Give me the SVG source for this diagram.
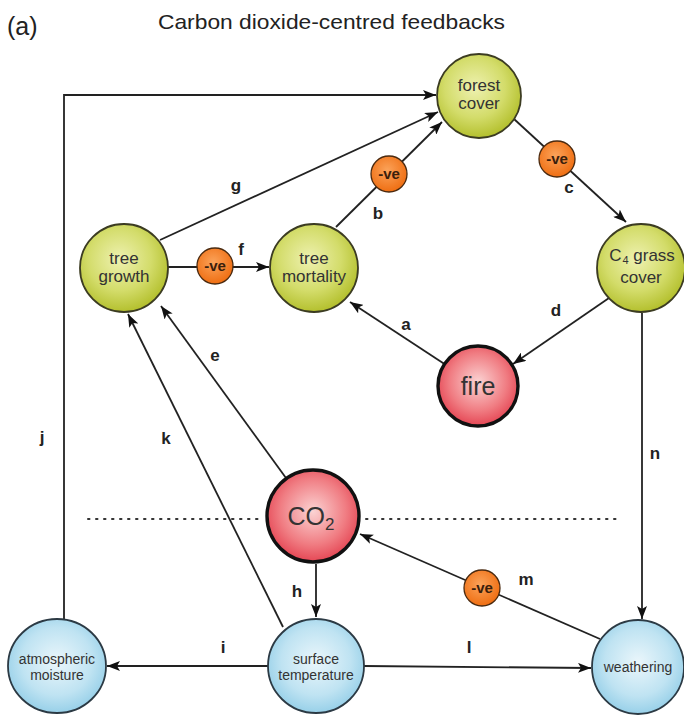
<svg xmlns="http://www.w3.org/2000/svg" width="684" height="719" viewBox="0 0 684 719">
  <defs>
    <radialGradient id="gGreen" cx="45%" cy="40%" r="60%">
      <stop offset="0" stop-color="#eef1b0"/>
      <stop offset="0.6" stop-color="#d3dc6a"/>
      <stop offset="1" stop-color="#b4c02e"/>
    </radialGradient>
    <radialGradient id="gRed" cx="50%" cy="45%" r="60%">
      <stop offset="0" stop-color="#fbd3d3"/>
      <stop offset="0.6" stop-color="#f07c82"/>
      <stop offset="1" stop-color="#e23848"/>
    </radialGradient>
    <radialGradient id="gBlue" cx="50%" cy="45%" r="60%">
      <stop offset="0" stop-color="#eaf6fb"/>
      <stop offset="0.6" stop-color="#bfe3f2"/>
      <stop offset="1" stop-color="#8dcbe6"/>
    </radialGradient>
    <radialGradient id="gOrange" cx="45%" cy="40%" r="60%">
      <stop offset="0" stop-color="#fba35a"/>
      <stop offset="1" stop-color="#ef6e12"/>
    </radialGradient>
    <marker id="arrow" viewBox="0 0 13 10" refX="13" refY="5" markerWidth="13" markerHeight="10" markerUnits="userSpaceOnUse" orient="auto">
      <path d="M0,0 L13,5 L0,10 L3,5 Z" fill="#111"/>
    </marker>
    <style>
      .title { font-family: "Liberation Sans", Arial, sans-serif; font-size: 21px; fill: #222; }
      .panel { font-family: "Liberation Sans", Arial, sans-serif; font-size: 25px; fill: #222; }
      .conn { fill: none; stroke: #222; stroke-width: 1.8; }
      .lbl { font-family: "Liberation Sans", Arial, sans-serif; font-size: 17px; font-weight: bold; fill: #222; text-anchor: middle; }
      .green { fill: url(#gGreen); stroke: #3c3c22; stroke-width: 1.8; }
      .red { fill: url(#gRed); stroke: #111; stroke-width: 3.4; }
      .blue { fill: url(#gBlue); stroke: #2c3a44; stroke-width: 1.8; }
      .neg { fill: url(#gOrange); stroke: #4a2a10; stroke-width: 1.3; }
      .ntxt { font-family: "Liberation Sans", Arial, sans-serif; font-size: 17px; fill: #333; text-anchor: middle; }
      .btxt { font-family: "Liberation Sans", Arial, sans-serif; font-size: 14px; fill: #333; text-anchor: middle; }
      .big { font-family: "Liberation Sans", Arial, sans-serif; font-size: 25px; fill: #333; text-anchor: middle; }
      .vetxt { font-family: "Liberation Sans", Arial, sans-serif; font-size: 15px; font-weight: bold; fill: #3a200c; text-anchor: middle; }
      .dots { fill: none; stroke: #333; stroke-width: 2; stroke-dasharray: 1.5 6.5; stroke-linecap: round; }
    </style>
  </defs>

  <rect width="684" height="719" fill="#ffffff"/>

  <text class="panel" x="7" y="35">(a)</text>
  <text class="title" x="158" y="29" textLength="347" lengthAdjust="spacingAndGlyphs">Carbon dioxide-centred feedbacks</text>

  <!-- dotted divider through the CO2 node -->
  <line class="dots" x1="88" y1="519" x2="262" y2="519"/>
  <line class="dots" x1="366" y1="519" x2="618" y2="519"/>

  <g id="connectors">
    <!-- j -->
    <polyline class="conn" points="64,620 64,95 436,95" marker-end="url(#arrow)"/>
    <!-- g -->
    <line class="conn" x1="160" y1="240" x2="438" y2="112" marker-end="url(#arrow)"/>
    <!-- b -->
    <line class="conn" x1="336" y1="227" x2="442" y2="122" marker-end="url(#arrow)"/>
    <!-- c -->
    <line class="conn" x1="514" y1="119" x2="626" y2="222" marker-end="url(#arrow)"/>
    <!-- f -->
    <line class="conn" x1="168" y1="267" x2="269" y2="267" marker-end="url(#arrow)"/>
    <!-- a -->
    <line class="conn" x1="446" y1="365" x2="350" y2="302" marker-end="url(#arrow)"/>
    <!-- d -->
    <line class="conn" x1="609" y1="298" x2="513" y2="364" marker-end="url(#arrow)"/>
    <!-- e -->
    <line class="conn" x1="286" y1="478" x2="161" y2="306" marker-end="url(#arrow)"/>
    <!-- k -->
    <line class="conn" x1="283" y1="627" x2="128" y2="314" marker-end="url(#arrow)"/>
    <!-- h -->
    <line class="conn" x1="316" y1="564" x2="316" y2="617" marker-end="url(#arrow)"/>
    <!-- i -->
    <line class="conn" x1="268" y1="666" x2="107" y2="666" marker-end="url(#arrow)"/>
    <!-- l -->
    <line class="conn" x1="364" y1="666" x2="591" y2="668" marker-end="url(#arrow)"/>
    <!-- m -->
    <line class="conn" x1="600" y1="639" x2="360" y2="534" marker-end="url(#arrow)"/>
    <!-- n -->
    <line class="conn" x1="642" y1="313" x2="642" y2="619" marker-end="url(#arrow)"/>

    <!-- connector labels -->
    <text class="lbl" x="42" y="443">j</text>
    <text class="lbl" x="236" y="191">g</text>
    <text class="lbl" x="378" y="219">b</text>
    <text class="lbl" x="569" y="193">c</text>
    <text class="lbl" x="241" y="255">f</text>
    <text class="lbl" x="406" y="330">a</text>
    <text class="lbl" x="556" y="316">d</text>
    <text class="lbl" x="215" y="361">e</text>
    <text class="lbl" x="166" y="444">k</text>
    <text class="lbl" x="297" y="597">h</text>
    <text class="lbl" x="223" y="653">i</text>
    <text class="lbl" x="469" y="653">l</text>
    <text class="lbl" x="526" y="585">m</text>
    <text class="lbl" x="655" y="459">n</text>
  </g>

  <!-- negative-feedback badges -->
  <g id="neg-b">
    <circle class="neg" cx="389" cy="174" r="18"/>
    <text class="vetxt" x="389" y="179">-ve</text>
  </g>
  <g id="neg-c">
    <circle class="neg" cx="557" cy="159" r="18"/>
    <text class="vetxt" x="557" y="164">-ve</text>
  </g>
  <g id="neg-f">
    <circle class="neg" cx="215" cy="266" r="18"/>
    <text class="vetxt" x="215" y="271">-ve</text>
  </g>
  <g id="neg-m">
    <circle class="neg" cx="482" cy="588" r="18"/>
    <text class="vetxt" x="482" y="593">-ve</text>
  </g>

  <g id="forest-cover">
    <circle class="green" cx="479" cy="96" r="42"/>
    <text class="ntxt" x="479" y="91">forest</text>
    <text class="ntxt" x="479" y="109">cover</text>
  </g>
  <g id="tree-growth">
    <circle class="green" cx="124" cy="268" r="44"/>
    <text class="ntxt" x="124" y="264">tree</text>
    <text class="ntxt" x="124" y="282">growth</text>
  </g>
  <g id="tree-mortality">
    <circle class="green" cx="314" cy="268" r="44"/>
    <text class="ntxt" x="314" y="264">tree</text>
    <text class="ntxt" x="314" y="282">mortality</text>
  </g>
  <g id="c4-grass-cover">
    <circle class="green" cx="641" cy="268" r="44"/>
    <text class="ntxt" x="642" y="261">C<tspan font-size="11" dx="1" dy="3">4</tspan><tspan dy="-3"> grass</tspan></text>
    <text class="ntxt" x="641" y="283">cover</text>
  </g>
  <g id="fire">
    <circle class="red" cx="478" cy="386" r="40"/>
    <text class="big" x="478" y="395">fire</text>
  </g>
  <g id="co2">
    <circle class="red" cx="313" cy="516" r="46"/>
    <text class="big" x="311" y="525">CO<tspan font-size="17" dy="5">2</tspan></text>
  </g>
  <g id="atmospheric-moisture">
    <ellipse class="blue" cx="57" cy="666" rx="49" ry="47"/>
    <text class="btxt" x="57" y="664">atmospheric</text>
    <text class="btxt" x="57" y="680">moisture</text>
  </g>
  <g id="surface-temperature">
    <ellipse class="blue" cx="316" cy="666" rx="48" ry="47"/>
    <text class="btxt" x="316" y="664">surface</text>
    <text class="btxt" x="316" y="680">temperature</text>
  </g>
  <g id="weathering">
    <ellipse class="blue" cx="638" cy="667" rx="46" ry="47"/>
    <text class="btxt" x="638" y="672">weathering</text>
  </g>
</svg>
